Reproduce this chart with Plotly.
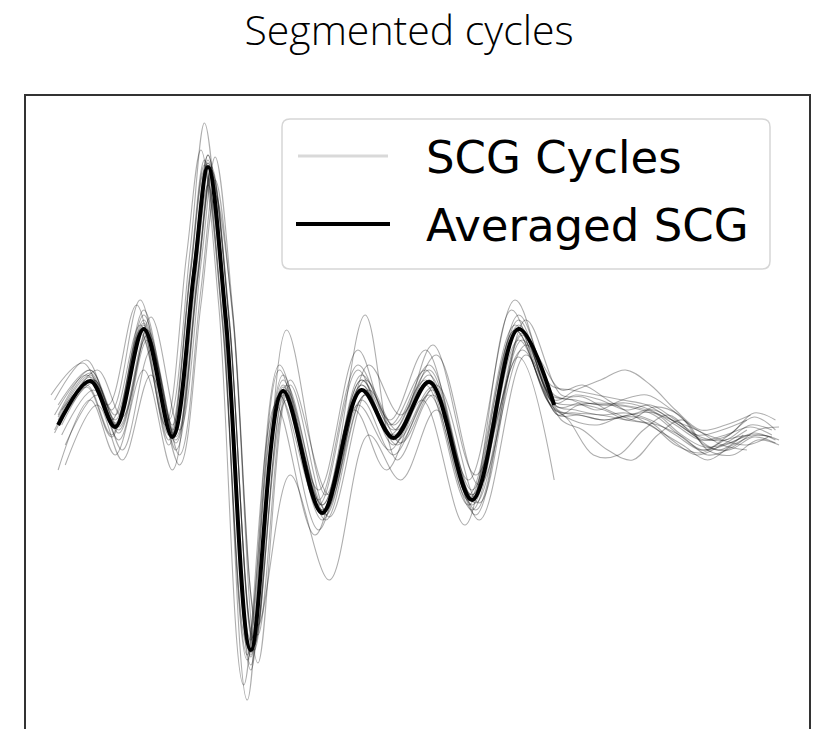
import plotly.graph_objects as go

# Sample index of each fiducial point used to trace the waveforms
X_KEY = [0, 9, 16, 24, 32, 38, 42, 47, 54, 63, 74, 85, 94, 104, 116, 129, 139,
         145, 152, 159, 166, 173, 180, 187, 194, 200]

# Ensemble-averaged SCG beat (defined up to sample 139)
AVERAGED_SCG = [0.00, 0.44, -0.02, 0.96, -0.12, 1.50, 2.58, 1.05, -2.25, 0.34,
                -0.88, 0.35, -0.13, 0.43, -0.75, 0.96, 0.20]

# Alignment lag (samples) of each segmented cycle
CYCLE_LAGS = [0, 1, -1, 2, 0, 1, -1, 0, 0, 2, -2, 1, 0, -1, 1, 0, -1, 2]

# Segmented SCG cycles (None = cycle already ended)
CYCLE_01 = [0.10, 0.55, 0.05, 1.10, -0.05, 1.60, 2.70, 1.15, -2.40, 0.45, -0.85, 0.45, -0.05,
            0.55, -0.70, 1.10, 0.30, 0.25, 0.20, 0.22, 0.15, 0.00, -0.15, -0.10, -0.02, -0.10]
CYCLE_02 = [-0.10, 0.35, -0.15, 0.85, -0.25, 1.40, 2.50, 1.00, -2.15, 0.25, -0.95, 0.30, -0.20,
            0.35, -0.85, 0.85, 0.15, 0.10, 0.05, 0.10, 0.12, -0.08, -0.22, -0.18, -0.08, -0.15]
CYCLE_03 = [0.25, 0.65, 0.15, 1.25, 0.05, 1.75, 3.02, 1.30, -2.75, 0.55, -0.75, 0.60, 0.05,
            0.75, -0.55, 1.25, 0.40, 0.35, 0.30, 0.25, 0.20, 0.05, -0.10, -0.05, 0.05, None]
CYCLE_04 = [-0.40, 0.20, -0.35, 0.50, -0.40, 1.20, 2.30, 1.10, -2.00, -0.50, -1.55, -0.10, -0.55,
            0.15, -0.95, 0.70, 0.05, -0.05, -0.25, -0.35, -0.10, 0.05, -0.25, -0.30, -0.15, -0.20]
CYCLE_05 = [0.05, 0.50, 0.00, 1.00, -0.10, 1.55, 2.65, 1.10, -2.30, 0.40, -0.80, 0.40, -0.10,
            0.50, -0.72, 1.00, 0.25, 0.35, 0.45, 0.55, 0.40, 0.15, -0.05, 0.00, 0.10, None]
CYCLE_06 = [0.15, 0.45, -0.05, 0.90, -0.15, 1.45, 2.55, 1.00, -2.20, 0.95, -0.70, 1.10, -0.35,
            0.30, -0.90, 0.90, 0.10, 0.20, 0.15, 0.05, 0.18, 0.10, -0.20, -0.25, -0.12, -0.18]
CYCLE_07 = [-0.05, 0.40, -0.10, 0.95, -0.20, 1.50, 2.60, 1.05, -2.35, 0.30, -1.05, 0.20, -0.25,
            0.40, -0.80, 0.95, 0.20, 0.05, 0.00, 0.08, 0.05, -0.15, -0.30, -0.20, -0.05, None]
CYCLE_08 = [0.00, 0.48, 0.02, 1.05, -0.08, 1.58, 2.62, 1.08, -2.28, 0.38, -0.90, 0.50, 0.00,
            0.60, -0.65, 1.05, 0.22, 0.30, 0.25, 0.15, 0.20, 0.05, -0.12, -0.15, 0.00, -0.05]
CYCLE_09 = [0.20, 0.55, 0.10, 1.15, 0.00, 1.60, 2.70, 1.15, -2.45, 0.50, -0.80, 0.45, -0.15,
            0.45, -0.70, 0.68, -0.55, None, None, None, None, None, None, None, None, None]
CYCLE_10 = [-0.20, 0.30, -0.25, 0.75, -0.30, 1.35, 2.45, 1.05, -2.10, 0.45, -0.70, 0.60, 0.10,
            0.70, -0.60, 0.80, 0.35, 0.40, 0.25, 0.10, -0.05, -0.20, -0.35, -0.20, -0.10, -0.15]
CYCLE_11 = [0.30, 0.62, 0.20, 1.20, 0.00, 1.70, 2.75, 1.20, -2.60, 0.20, -1.10, 0.15, -0.45,
            0.25, -1.00, 1.15, 0.25, 0.05, -0.30, -0.30, -0.05, 0.10, -0.10, -0.25, -0.10, None]
CYCLE_12 = [0.05, 0.42, -0.08, 0.90, -0.18, 1.45, 2.55, 1.05, -2.20, 0.35, -0.85, 0.30, -0.15,
            0.38, -0.78, 0.92, 0.18, 0.22, 0.20, 0.18, 0.10, -0.10, -0.25, -0.10, 0.08, -0.05]
CYCLE_13 = [-0.45, 0.25, -0.30, 0.55, -0.45, 1.30, 2.40, 1.00, -2.15, 0.30, -0.95, 0.25, -0.30,
            0.30, -0.85, 0.85, 0.15, 0.12, 0.10, 0.05, 0.00, -0.20, -0.28, -0.15, -0.10, None]
CYCLE_14 = [0.10, 0.50, 0.05, 1.00, -0.10, 1.55, 2.65, 1.10, -2.30, 0.60, -0.65, 0.75, 0.00,
            0.55, -0.70, 1.00, 0.30, 0.25, 0.15, 0.25, 0.30, 0.15, -0.05, -0.15, -0.20, -0.12]
CYCLE_15 = [0.00, 0.45, -0.02, 0.95, -0.12, 1.50, 2.58, 1.05, -2.25, 0.40, -0.90, 0.45, -0.05,
            0.80, -0.50, 0.75, 0.10, 0.10, 0.05, 0.10, 0.15, 0.00, -0.15, -0.10, 0.12, 0.05]
CYCLE_16 = [0.08, 0.52, 0.00, 1.02, -0.10, 1.56, 2.62, 1.08, -2.32, 0.35, -0.85, 0.40, -0.20,
            0.45, -0.80, 0.98, 0.20, 0.15, 0.10, 0.12, 0.05, -0.10, -0.25, -0.20, -0.10, -0.12]
CYCLE_17 = [-0.08, 0.38, -0.12, 0.92, -0.15, 1.48, 2.55, 1.02, -2.20, 0.30, -0.80, 0.55, -0.10,
            0.45, -0.75, 0.95, 0.25, 0.20, 0.22, 0.20, 0.15, 0.05, -0.05, -0.20, -0.25, None]
CYCLE_18 = [0.12, 0.55, 0.08, 1.08, -0.05, 1.60, 2.68, 1.12, -2.38, 0.40, -0.92, 0.35, -0.18,
            0.40, -0.78, 1.05, 0.30, 0.28, 0.15, 0.05, 0.00, -0.12, -0.30, -0.22, -0.05, -0.02]

CYCLES = [CYCLE_01, CYCLE_02, CYCLE_03, CYCLE_04, CYCLE_05, CYCLE_06, CYCLE_07, CYCLE_08,
          CYCLE_09, CYCLE_10, CYCLE_11, CYCLE_12, CYCLE_13, CYCLE_14, CYCLE_15, CYCLE_16,
          CYCLE_17, CYCLE_18]

LEGEND_LABELS = ["SCG Cycles", "Averaged SCG"]
TITLE = "Segmented cycles"

CYCLE_COLOR = "rgba(0,0,0,0.32)"
MEAN_COLOR = "#000000"

fig = go.Figure()

for lag, cyc in zip(CYCLE_LAGS, CYCLES):
    xs = [k + lag for k, v in zip(X_KEY, cyc) if v is not None]
    ys = [v for v in cyc if v is not None]
    fig.add_trace(go.Scatter(
        x=xs, y=ys, mode="lines", name=LEGEND_LABELS[0],
        line=dict(color=CYCLE_COLOR, width=1.1, shape="spline"),
        showlegend=False, hoverinfo="skip",
    ))

fig.add_trace(go.Scatter(
    x=X_KEY[:len(AVERAGED_SCG)], y=AVERAGED_SCG, mode="lines", name=LEGEND_LABELS[1],
    line=dict(color=MEAN_COLOR, width=4, shape="spline"),
    showlegend=False,
))

# plot area geometry (pixels) used for the hand-drawn legend
W, H = 818, 729
L, R, T, B = 26, 9, 96, 0
PW, PH = W - L - R, H - T - B


def px(xp):
    return (xp - L) / PW


def py(yp):
    return (H - B - yp) / PH


# legend frame with rounded corners
x0, x1, y0, y1 = px(282), px(770), py(269), py(119)
rx, ry = 8 / PW, 8 / PH
path = (f"M {x0+rx},{y0} L {x1-rx},{y0} Q {x1},{y0} {x1},{y0+ry} "
        f"L {x1},{y1-ry} Q {x1},{y1} {x1-rx},{y1} L {x0+rx},{y1} "
        f"Q {x0},{y1} {x0},{y1-ry} L {x0},{y0+ry} Q {x0},{y0} {x0+rx},{y0} Z")
shapes = [
    dict(type="path", xref="paper", yref="paper", path=path,
         line=dict(color="#d6d6d6", width=1.5), fillcolor="rgba(255,255,255,0.8)", layer="above"),
    dict(type="line", xref="paper", yref="paper", x0=px(298), x1=px(388), y0=py(156), y1=py(156),
         line=dict(color="rgba(0,0,0,0.15)", width=3), layer="above"),
    dict(type="line", xref="paper", yref="paper", x0=px(296), x1=px(390), y0=py(224), y1=py(224),
         line=dict(color=MEAN_COLOR, width=4), layer="above"),
]
annotations = [
    dict(text=LEGEND_LABELS[0], xref="paper", yref="paper", x=px(424), y=py(157),
         xanchor="left", yanchor="middle", showarrow=False,
         font=dict(family="DejaVu Sans", size=45, color="#000")),
    dict(text=LEGEND_LABELS[1], xref="paper", yref="paper", x=px(424), y=py(225),
         xanchor="left", yanchor="middle", showarrow=False,
         font=dict(family="DejaVu Sans", size=45, color="#000")),
]

fig.update_layout(
    width=W, height=H,
    margin=dict(l=L, r=R, t=T, b=B),
    paper_bgcolor="white", plot_bgcolor="white",
    title=dict(text=TITLE, x=0.5, xref="container", xanchor="center",
               y=1 - 31 / H, yref="container", yanchor="middle",
               font=dict(family="Open Sans", size=41, color="#000", weight=300)),
    shapes=shapes, annotations=annotations,
    showlegend=False,
    xaxis=dict(range=[-9, 210.4], side="top", showline=True, linecolor="#333", linewidth=1.5,
               mirror=False, showticklabels=False, ticks="", showgrid=False, zeroline=False),
    yaxis=dict(range=[-3.04, 3.29], showline=True, linecolor="#333", linewidth=1.5,
               mirror=True, showticklabels=False, ticks="", showgrid=False, zeroline=False),
)

fig.write_html("out.html")
